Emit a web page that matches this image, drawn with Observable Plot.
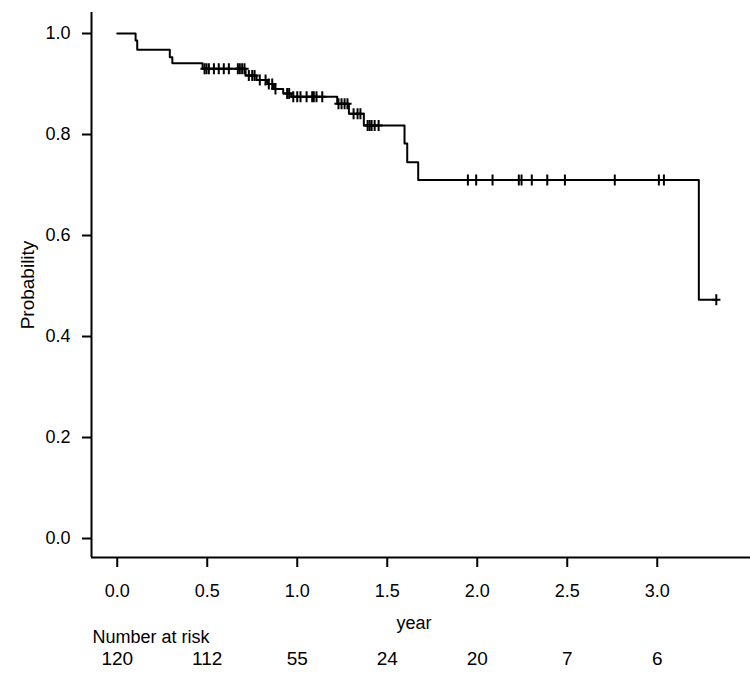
<!DOCTYPE html>
<html>
<head>
<meta charset="utf-8">
<script src="https://cdn.jsdelivr.net/npm/d3@7"></script>
<script src="https://cdn.jsdelivr.net/npm/@observablehq/plot@0.6"></script>
<style>
  html, body { margin: 0; padding: 0; background: #fff; }
  svg [aria-label*="axis"] path, svg [aria-label*="axis"] line { stroke-width: 2px !important; }
</style>
</head>
<body>
<div id="chart"></div>
<script>
// Kaplan–Meier step curve: event times (years) and survival probability after each step
const eventTimes = [0, 0.102, 0.111, 0.292, 0.306, 0.474, 0.713, 0.774, 0.833, 0.870, 0.922, 0.967, 1.222, 1.287, 1.370, 1.596, 1.611, 1.672, 3.231, 3.328];
const survival   = [1.000, 0.986, 0.968, 0.953, 0.941, 0.930, 0.917, 0.908, 0.900, 0.890, 0.881, 0.875, 0.861, 0.841, 0.818, 0.782, 0.745, 0.710, 0.473, 0.473];

// Censoring times (years)
const censorTimes = [
  0.485, 0.496, 0.509, 0.537, 0.564, 0.592, 0.620, 0.670, 0.681, 0.694, 0.707,
  0.731, 0.750, 0.763,
  0.792, 0.824,
  0.842, 0.861,
  0.879,
  0.944, 0.955,
  0.978, 1.000, 1.018, 1.052, 1.083, 1.092, 1.107, 1.139,
  1.229, 1.246, 1.263, 1.279,
  1.313, 1.335, 1.351,
  1.391, 1.402, 1.413, 1.430, 1.452,
  1.948, 1.994, 2.085, 2.231, 2.246, 2.303, 2.389, 2.487, 2.764, 3.009, 3.037,
  3.328
];

// Number at risk table
const riskTimes  = [0, 0.5, 1.0, 1.5, 2.0, 2.5, 3.0];
const riskCounts = [120, 112, 55, 24, 20, 7, 6];

// Axis ticks and domains
const xTicks = [0, 0.5, 1.0, 1.5, 2.0, 2.5, 3.0];
const yTicks = [0, 0.2, 0.4, 0.6, 0.8, 1.0];
const xDomain = [-0.143, 3.518];
const yDomain = [-0.0376, 1.0416];

const curve = eventTimes.map((t, i) => ({t, s: survival[i]}));
function survAt(t) {
  let s = survival[0];
  for (let i = 0; i < eventTimes.length; i++) if (eventTimes[i] <= t) s = survival[i];
  return s;
}
const censors = censorTimes.map(t => ({t, s: survAt(t)}));
const risk = riskTimes.map((t, i) => ({t, n: riskCounts[i]}));

const tickSymbol = {
  draw(context, size) {
    const r = Math.sqrt(size / Math.PI);
    context.moveTo(0, -r); context.lineTo(0, r);
    context.moveTo(-r * 0.75, 0); context.lineTo(r * 0.75, 0);
  }
};

const font = "Liberation Sans, Arial, sans-serif";

const chart = Plot.plot({
  width: 750,
  height: 693,
  marginLeft: 91,
  marginRight: 0,
  marginTop: 12,
  marginBottom: 136,
  style: {fontFamily: font, fontSize: "18px", background: "#fff", color: "#000"},
  x: {domain: xDomain, ticks: xTicks, tickFormat: d3.format(".1f"), tickSize: 10, tickPadding: 17, label: null},
  y: {domain: yDomain, ticks: yTicks, tickFormat: d3.format(".1f"), tickSize: 9, tickPadding: 12, label: null},
  marks: [
    Plot.ruleY([yDomain[0]], {stroke: "#000", strokeWidth: 2}),
    Plot.ruleX([xDomain[0]], {stroke: "#000", strokeWidth: 2}),
    Plot.line(curve, {x: "t", y: "s", curve: "step-after", stroke: "#000", strokeWidth: 2}),
    Plot.dot(censors, {x: "t", y: "s", symbol: tickSymbol, r: 5.5, fill: "none", stroke: "#000", strokeWidth: 2}),
    Plot.text(["year"], {frameAnchor: "bottom", dx: -7, dy: 71, text: d => d, fontSize: 18}),
    Plot.text(["Probability"], {frameAnchor: "left", dx: -64, rotate: -90, text: d => d, fontSize: 19, textAnchor: "middle"}),
    Plot.text(["Number at risk"], {frameAnchor: "bottom-left", dx: 1, dy: 85, text: d => d, textAnchor: "start", fontSize: 18, letterSpacing: "-0.3px"}),
    Plot.text(risk, {x: "t", frameAnchor: "bottom", dy: 107, text: d => String(d.n), fontSize: 19})
  ]
});
document.getElementById("chart").appendChild(chart);
</script>
</body>
</html>
